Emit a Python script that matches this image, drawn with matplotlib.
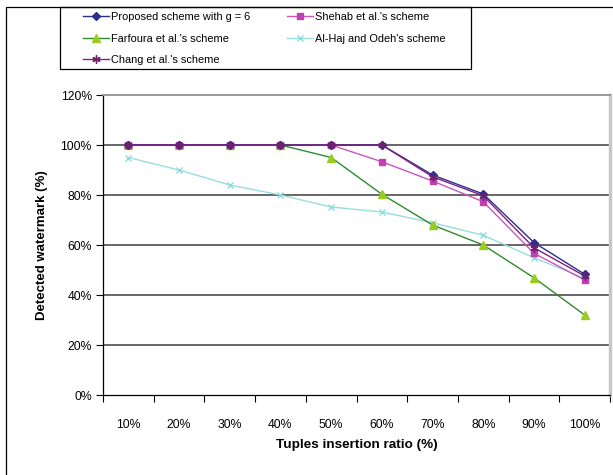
import matplotlib.pyplot as plt
from matplotlib.patches import Rectangle

plt.rcParams['font.family'] = ['Liberation Sans', 'DejaVu Sans']

# data
ratios = ['10%', '20%', '30%', '40%', '50%', '60%', '70%', '80%', '90%', '100%']
proposed = [100, 100, 100, 100, 100, 100, 88, 80.4, 61, 48.3]
shehab = [100, 100, 100, 100, 100, 93.3, 85.6, 77.3, 56.7, 46]
farfoura = [100, 100, 100, 100, 95, 80.3, 68, 60, 46.9, 32]
alhaj = [95, 90, 84, 80, 75.2, 73.2, 68.9, 63.9, 54.9, 46.7]
chang = [100, 100, 100, 100, 100, 100, 87.3, 79.7, 58.9, 47.6]
yticks = [0, 20, 40, 60, 80, 100, 120]

W, H = 613, 475
fig = plt.figure(figsize=(W / 100, H / 100), dpi=100)
ax = fig.add_axes([103 / W, 80 / H, 507 / W, 300 / H])

x = list(range(len(ratios)))

l1, = ax.plot(x, proposed, color='#2E2E8C', lw=1, marker='D', ms=4,
              mfc='#2E2E8C', mec='#2E2E8C', label='Proposed scheme with g = 6', zorder=5)
l2, = ax.plot(x, shehab, color='#CC55BB', lw=1, marker='s', ms=4.5,
              mfc='#C040B0', mec='#C040B0', label="Shehab et al.'s scheme", zorder=4)
l3, = ax.plot(x, farfoura, color='#2E8B2E', lw=1, marker='^', ms=6,
              mfc='#99CC22', mec='#99CC22', label="Farfoura et al.'s scheme", zorder=3)
l4, = ax.plot(x, alhaj, color='#99DDDD', lw=1, marker='x', ms=5, mew=1,
              mec='#88DDDD', label="Al-Haj and Odeh's scheme", zorder=2)
l5, = ax.plot(x, chang, color='#802080', lw=1, marker=(6, 2, 0), ms=6, mew=1,
              mec='#702070', label="Chang et al.'s scheme", zorder=6)

ax.set_xlim(-0.5, len(ratios) - 0.5)
ax.set_ylim(0, 120)
ax.set_yticks(yticks)
ax.set_yticklabels([f'{v}%' for v in yticks], fontsize=8.8)
ax.set_xticks(x)
ax.set_xticklabels(ratios, fontsize=8.8)
ax.set_xticks([i - 0.5 for i in range(len(ratios) + 1)], minor=True)
ax.tick_params(axis='x', which='major', length=0, pad=17)
ax.tick_params(axis='x', which='minor', length=5, width=0.8, direction='out')
ax.tick_params(axis='y', length=5, width=0.8, direction='out', pad=3)

for v in yticks[1:-1]:
    ax.axhline(v, color='#5A5A5A', lw=1.3, zorder=1)

ax.spines['left'].set_color('black')
ax.spines['bottom'].set_color('black')
ax.spines['left'].set_linewidth(0.9)
ax.spines['bottom'].set_linewidth(0.9)
ax.spines['top'].set_color('#909090')
ax.spines['top'].set_linewidth(1.3)
ax.spines['right'].set_color('#C8C8C8')
ax.spines['right'].set_linewidth(2.5)

ax.set_xlabel('Tuples insertion ratio (%)', fontsize=9.7, fontweight='bold', labelpad=6)
ax.set_ylabel('Detected watermark (%)', fontsize=9.5, fontweight='bold', labelpad=9)

# outer chart frame
fig.patches.append(Rectangle((6 / W, -0.1), 1.2, 1.1 - 7 / H, transform=fig.transFigure,
                             fill=False, edgecolor='black', lw=0.9))
# legend frame
fig.patches.append(Rectangle((60 / W, 1 - 69 / H), 411 / W, 62 / H, transform=fig.transFigure,
                             fill=False, edgecolor='black', lw=0.9))

fig.legend([l1, l3, l5, l2, l4], [h.get_label() for h in [l1, l3, l5, l2, l4]],
           loc='upper left', bbox_to_anchor=(80 / W, 1 - 9 / H), ncol=2, frameon=False,
           fontsize=7.9, handlelength=2.3, handletextpad=0.2, columnspacing=3.4,
           labelspacing=1.05, borderpad=0.3, borderaxespad=0)

fig.savefig('out.png', dpi=100)
